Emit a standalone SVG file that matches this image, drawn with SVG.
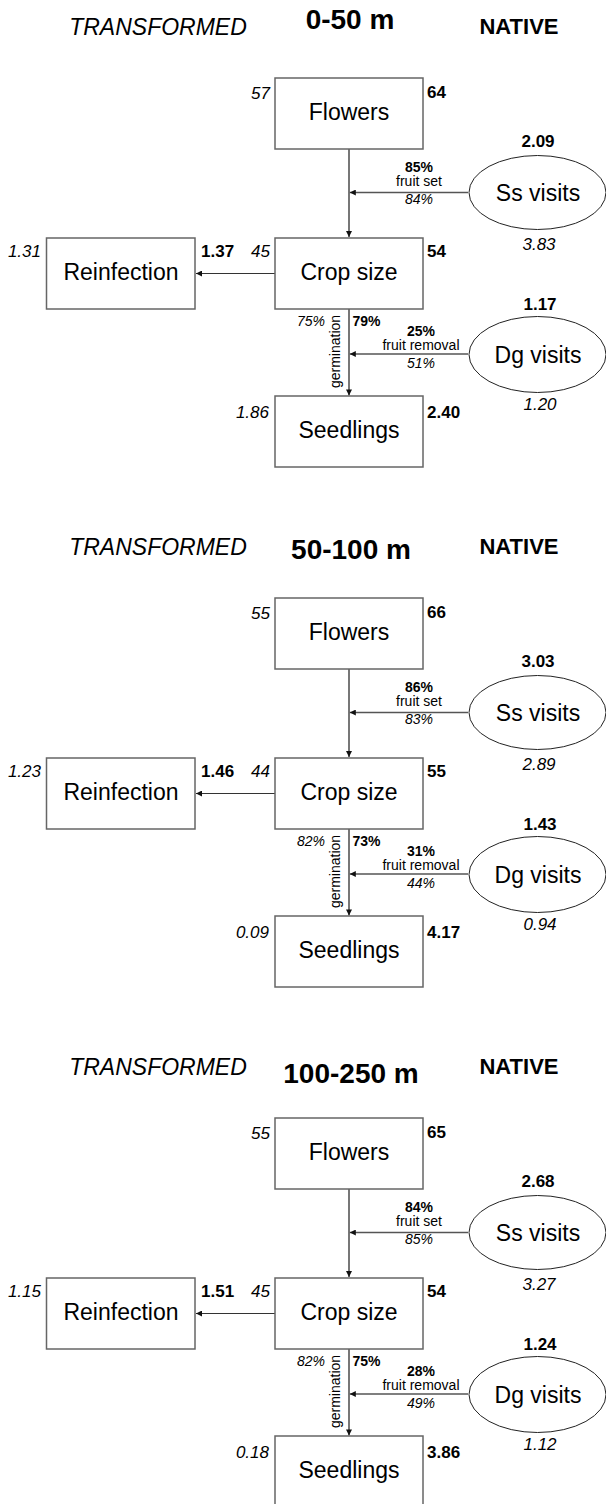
<svg xmlns="http://www.w3.org/2000/svg" width="606" height="1504" viewBox="0 0 606 1504">
  <style>
    text { font-family: "Liberation Sans", Arial, Helvetica, sans-serif; fill: #000; }
    .box { fill: #fff; stroke: #666; stroke-width: 1.5; }
    .oval { fill: #fff; stroke: #222; stroke-width: 1; }
    .lbl { font-size: 23px; text-anchor: middle; }
    .b { font-size: 17px; font-weight: bold; }
    .i { font-size: 17px; font-style: italic; }
    .sb { font-size: 14px; font-weight: bold; text-anchor: middle; }
    .si { font-size: 14px; font-style: italic; text-anchor: middle; }
    .s { font-size: 14px; text-anchor: middle; }
    .end { text-anchor: end; }
    .mid { text-anchor: middle; }
    .head-i { font-size: 23px; font-style: italic; text-anchor: middle; }
    .head-b { font-size: 22px; font-weight: bold; text-anchor: middle; }
    .range { font-size: 28px; font-weight: bold; text-anchor: middle; }
    .edge { stroke: #555; stroke-width: 1.6; fill: none; marker-end: url(#ah); }
    .edge-thin { stroke: #333; stroke-width: 1.1; fill: none; marker-end: url(#ah); }
  </style>
  <defs>
    <marker id="ah" viewBox="0 0 10 10" refX="10" refY="5" markerWidth="9" markerHeight="6" orient="auto" markerUnits="userSpaceOnUse">
      <path d="M0,0 L10,5 L0,10 z" fill="#111"/>
    </marker>
  </defs>

  <!-- ===== Panel 1: 0-50 m ===== -->
  <g id="panel-0-50">
    <g id="p1-headings">
      <text class="head-i" x="158" y="35">TRANSFORMED</text>
      <text class="range" x="350" y="29">0-50 m</text>
      <text class="head-b" x="519" y="34">NATIVE</text>
    </g>
    <g id="p1-connectors">
      <line class="edge" x1="349" y1="149" x2="349" y2="237"/>
      <line class="edge" x1="468" y1="192.5" x2="349.8" y2="192.5"/>
      <line class="edge-thin" x1="275" y1="273.5" x2="196" y2="273.5"/>
      <line class="edge" x1="349" y1="309" x2="349" y2="395.5"/>
      <line class="edge" x1="468" y1="354" x2="349.8" y2="354"/>
      <text class="sb" x="419" y="172">85%</text>
      <text class="s" x="419" y="186">fruit set</text>
      <text class="si" x="419" y="204">84%</text>
      <text class="sb" x="421" y="336">25%</text>
      <text class="s" x="421" y="349.5">fruit removal</text>
      <text class="si" x="421" y="368">51%</text>
      <text class="si end" x="325" y="326">75%</text>
      <text class="sb" x="352.5" y="326" style="text-anchor:start">79%</text>
      <text class="s" transform="translate(339.5,351.5) rotate(-90)">germination</text>
    </g>
    <g id="p1-flowers">
      <rect class="box" x="275" y="78" width="148" height="71"/>
      <text class="lbl" x="349" y="120">Flowers</text>
      <text class="i end" x="270" y="99">57</text>
      <text class="b" x="427" y="98">64</text>
    </g>
    <g id="p1-ss-visits">
      <ellipse class="oval" cx="537.5" cy="192.5" rx="68.5" ry="37"/>
      <text class="lbl" x="538" y="200.5">Ss visits</text>
      <text class="b mid" x="538" y="147">2.09</text>
      <text class="i mid" x="539" y="250">3.83</text>
    </g>
    <g id="p1-crop-size">
      <rect class="box" x="275" y="238" width="148" height="71"/>
      <text class="lbl" x="349" y="280">Crop size</text>
      <text class="i end" x="270" y="257">45</text>
      <text class="b" x="427" y="257">54</text>
    </g>
    <g id="p1-reinfection">
      <rect class="box" x="46.5" y="238" width="148.5" height="71"/>
      <text class="lbl" x="121" y="280">Reinfection</text>
      <text class="i end" x="41" y="257">1.31</text>
      <text class="b" x="201" y="257">1.37</text>
    </g>
    <g id="p1-dg-visits">
      <ellipse class="oval" cx="537.5" cy="354.5" rx="68.5" ry="38"/>
      <text class="lbl" x="538" y="362.5">Dg visits</text>
      <text class="b mid" x="540" y="310">1.17</text>
      <text class="i mid" x="540" y="410">1.20</text>
    </g>
    <g id="p1-seedlings">
      <rect class="box" x="275" y="396" width="148" height="71"/>
      <text class="lbl" x="349" y="438">Seedlings</text>
      <text class="i end" x="269" y="418">1.86</text>
      <text class="b" x="427" y="418">2.40</text>
    </g>
  </g>

  <!-- ===== Panel 2: 50-100 m ===== -->
  <g id="panel-50-100" transform="translate(0,520)">
    <g id="p2-headings">
      <text class="head-i" x="158" y="35">TRANSFORMED</text>
      <text class="range" x="351" y="39">50-100 m</text>
      <text class="head-b" x="519" y="34">NATIVE</text>
    </g>
    <g id="p2-connectors">
      <line class="edge" x1="349" y1="149" x2="349" y2="237"/>
      <line class="edge" x1="468" y1="192.5" x2="349.8" y2="192.5"/>
      <line class="edge-thin" x1="275" y1="273.5" x2="196" y2="273.5"/>
      <line class="edge" x1="349" y1="309" x2="349" y2="395.5"/>
      <line class="edge" x1="468" y1="354" x2="349.8" y2="354"/>
      <text class="sb" x="419" y="172">86%</text>
      <text class="s" x="419" y="186">fruit set</text>
      <text class="si" x="419" y="204">83%</text>
      <text class="sb" x="421" y="336">31%</text>
      <text class="s" x="421" y="349.5">fruit removal</text>
      <text class="si" x="421" y="368">44%</text>
      <text class="si end" x="325" y="326">82%</text>
      <text class="sb" x="352.5" y="326" style="text-anchor:start">73%</text>
      <text class="s" transform="translate(339.5,351.5) rotate(-90)">germination</text>
    </g>
    <g id="p2-flowers">
      <rect class="box" x="275" y="78" width="148" height="71"/>
      <text class="lbl" x="349" y="120">Flowers</text>
      <text class="i end" x="270" y="99">55</text>
      <text class="b" x="427" y="98">66</text>
    </g>
    <g id="p2-ss-visits">
      <ellipse class="oval" cx="537.5" cy="192.5" rx="68.5" ry="37"/>
      <text class="lbl" x="538" y="200.5">Ss visits</text>
      <text class="b mid" x="538" y="147">3.03</text>
      <text class="i mid" x="539" y="250">2.89</text>
    </g>
    <g id="p2-crop-size">
      <rect class="box" x="275" y="238" width="148" height="71"/>
      <text class="lbl" x="349" y="280">Crop size</text>
      <text class="i end" x="270" y="257">44</text>
      <text class="b" x="427" y="257">55</text>
    </g>
    <g id="p2-reinfection">
      <rect class="box" x="46.5" y="238" width="148.5" height="71"/>
      <text class="lbl" x="121" y="280">Reinfection</text>
      <text class="i end" x="41" y="257">1.23</text>
      <text class="b" x="201" y="257">1.46</text>
    </g>
    <g id="p2-dg-visits">
      <ellipse class="oval" cx="537.5" cy="354.5" rx="68.5" ry="38"/>
      <text class="lbl" x="538" y="362.5">Dg visits</text>
      <text class="b mid" x="540" y="310">1.43</text>
      <text class="i mid" x="540" y="410">0.94</text>
    </g>
    <g id="p2-seedlings">
      <rect class="box" x="275" y="396" width="148" height="71"/>
      <text class="lbl" x="349" y="438">Seedlings</text>
      <text class="i end" x="269" y="418">0.09</text>
      <text class="b" x="427" y="418">4.17</text>
    </g>
  </g>

  <!-- ===== Panel 3: 100-250 m ===== -->
  <g id="panel-100-250" transform="translate(0,1040)">
    <g id="p3-headings">
      <text class="head-i" x="158" y="35">TRANSFORMED</text>
      <text class="range" x="351" y="43">100-250 m</text>
      <text class="head-b" x="519" y="34">NATIVE</text>
    </g>
    <g id="p3-connectors">
      <line class="edge" x1="349" y1="149" x2="349" y2="237"/>
      <line class="edge" x1="468" y1="192.5" x2="349.8" y2="192.5"/>
      <line class="edge-thin" x1="275" y1="273.5" x2="196" y2="273.5"/>
      <line class="edge" x1="349" y1="309" x2="349" y2="395.5"/>
      <line class="edge" x1="468" y1="354" x2="349.8" y2="354"/>
      <text class="sb" x="419" y="172">84%</text>
      <text class="s" x="419" y="186">fruit set</text>
      <text class="si" x="419" y="204">85%</text>
      <text class="sb" x="421" y="336">28%</text>
      <text class="s" x="421" y="349.5">fruit removal</text>
      <text class="si" x="421" y="368">49%</text>
      <text class="si end" x="325" y="326">82%</text>
      <text class="sb" x="352.5" y="326" style="text-anchor:start">75%</text>
      <text class="s" transform="translate(339.5,351.5) rotate(-90)">germination</text>
    </g>
    <g id="p3-flowers">
      <rect class="box" x="275" y="78" width="148" height="71"/>
      <text class="lbl" x="349" y="120">Flowers</text>
      <text class="i end" x="270" y="99">55</text>
      <text class="b" x="427" y="98">65</text>
    </g>
    <g id="p3-ss-visits">
      <ellipse class="oval" cx="537.5" cy="192.5" rx="68.5" ry="37"/>
      <text class="lbl" x="538" y="200.5">Ss visits</text>
      <text class="b mid" x="538" y="147">2.68</text>
      <text class="i mid" x="539" y="250">3.27</text>
    </g>
    <g id="p3-crop-size">
      <rect class="box" x="275" y="238" width="148" height="71"/>
      <text class="lbl" x="349" y="280">Crop size</text>
      <text class="i end" x="270" y="257">45</text>
      <text class="b" x="427" y="257">54</text>
    </g>
    <g id="p3-reinfection">
      <rect class="box" x="46.5" y="238" width="148.5" height="71"/>
      <text class="lbl" x="121" y="280">Reinfection</text>
      <text class="i end" x="41" y="257">1.15</text>
      <text class="b" x="201" y="257">1.51</text>
    </g>
    <g id="p3-dg-visits">
      <ellipse class="oval" cx="537.5" cy="354.5" rx="68.5" ry="38"/>
      <text class="lbl" x="538" y="362.5">Dg visits</text>
      <text class="b mid" x="540" y="310">1.24</text>
      <text class="i mid" x="540" y="410">1.12</text>
    </g>
    <g id="p3-seedlings">
      <rect class="box" x="275" y="396" width="148" height="71"/>
      <text class="lbl" x="349" y="438">Seedlings</text>
      <text class="i end" x="269" y="418">0.18</text>
      <text class="b" x="427" y="418">3.86</text>
    </g>
  </g>
</svg>
